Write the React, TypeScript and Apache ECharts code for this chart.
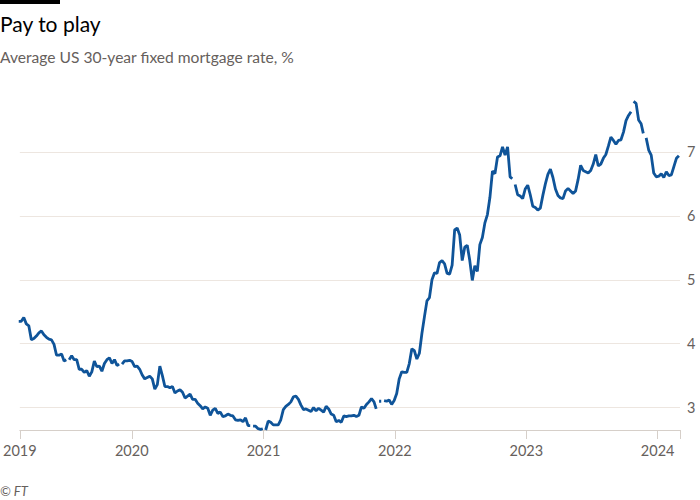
import React, { useEffect, useRef } from "react";
import * as echarts from "echarts";

type Pt = [string, number | null];

// Weekly average 30-year fixed mortgage rate, % (null = break in the line)
const rates2019: Pt[] = [
  ["2019-02-21", 4.35], ["2019-02-28", 4.35], ["2019-03-07", 4.41], ["2019-03-14", 4.31], ["2019-03-21", 4.28],
  ["2019-03-28", 4.06], ["2019-04-04", 4.08], ["2019-04-11", 4.12], ["2019-04-18", 4.17], ["2019-04-25", 4.2],
  ["2019-05-02", 4.14], ["2019-05-09", 4.1], ["2019-05-16", 4.07], ["2019-05-23", 4.06], ["2019-05-30", 3.99],
  ["2019-06-06", 3.82], ["2019-06-13", 3.82], ["2019-06-20", 3.84], ["2019-06-27", 3.73], ["2019-07-03", 3.75],
  ["2019-07-07", null], ["2019-07-11", 3.75], ["2019-07-18", 3.81], ["2019-07-25", 3.75], ["2019-08-01", 3.75],
  ["2019-08-08", 3.6], ["2019-08-15", 3.6], ["2019-08-22", 3.55], ["2019-08-29", 3.58], ["2019-09-05", 3.49],
  ["2019-09-12", 3.56], ["2019-09-19", 3.73], ["2019-09-26", 3.64], ["2019-10-03", 3.65], ["2019-10-10", 3.57],
  ["2019-10-17", 3.69], ["2019-10-24", 3.75], ["2019-10-31", 3.78], ["2019-11-07", 3.69], ["2019-11-14", 3.75],
  ["2019-11-21", 3.66], ["2019-11-27", 3.68], ["2019-12-01", null], ["2019-12-05", 3.68], ["2019-12-12", 3.73],
  ["2019-12-19", 3.73], ["2019-12-26", 3.74],
];

const rates2020: Pt[] = [
  ["2020-01-02", 3.72], ["2020-01-09", 3.64], ["2020-01-16", 3.65], ["2020-01-23", 3.6], ["2020-01-30", 3.51],
  ["2020-02-06", 3.45], ["2020-02-13", 3.47], ["2020-02-20", 3.49], ["2020-02-27", 3.45], ["2020-03-05", 3.29],
  ["2020-03-12", 3.36], ["2020-03-19", 3.65], ["2020-03-26", 3.5], ["2020-04-02", 3.33], ["2020-04-09", 3.33],
  ["2020-04-16", 3.31], ["2020-04-23", 3.33], ["2020-04-30", 3.23], ["2020-05-07", 3.26], ["2020-05-14", 3.28],
  ["2020-05-21", 3.24], ["2020-05-28", 3.15], ["2020-06-04", 3.18], ["2020-06-11", 3.21], ["2020-06-18", 3.13],
  ["2020-06-25", 3.13], ["2020-07-02", 3.07], ["2020-07-09", 3.03], ["2020-07-16", 2.98], ["2020-07-23", 3.01],
  ["2020-07-30", 2.99], ["2020-08-06", 2.88], ["2020-08-13", 2.96], ["2020-08-20", 2.99], ["2020-08-27", 2.91],
  ["2020-09-03", 2.93], ["2020-09-10", 2.86], ["2020-09-17", 2.87], ["2020-09-24", 2.9], ["2020-10-01", 2.88],
  ["2020-10-08", 2.87], ["2020-10-15", 2.81], ["2020-10-22", 2.8], ["2020-10-29", 2.81], ["2020-11-05", 2.78],
  ["2020-11-12", 2.84], ["2020-11-19", 2.72], ["2020-11-25", 2.72], ["2020-11-29", null], ["2020-12-03", 2.71],
  ["2020-12-10", 2.71], ["2020-12-17", 2.67], ["2020-12-24", 2.66], ["2020-12-30", 2.67], ["2021-01-03", null],
];

const rates2021: Pt[] = [
  ["2021-01-07", 2.65], ["2021-01-14", 2.79], ["2021-01-21", 2.77], ["2021-01-28", 2.73], ["2021-02-04", 2.73],
  ["2021-02-11", 2.73], ["2021-02-18", 2.81], ["2021-02-25", 2.97], ["2021-03-04", 3.02], ["2021-03-11", 3.05],
  ["2021-03-18", 3.09], ["2021-03-25", 3.17], ["2021-04-01", 3.18], ["2021-04-08", 3.13], ["2021-04-15", 3.04],
  ["2021-04-22", 2.97], ["2021-04-29", 2.98], ["2021-05-06", 2.96], ["2021-05-13", 2.94], ["2021-05-20", 3.0],
  ["2021-05-27", 2.95], ["2021-06-03", 2.99], ["2021-06-10", 2.96], ["2021-06-17", 2.93], ["2021-06-24", 3.02],
  ["2021-07-01", 2.98], ["2021-07-08", 2.9], ["2021-07-15", 2.88], ["2021-07-22", 2.78], ["2021-07-29", 2.8],
  ["2021-08-05", 2.77], ["2021-08-12", 2.87], ["2021-08-19", 2.86], ["2021-08-26", 2.87], ["2021-09-02", 2.87],
  ["2021-09-09", 2.88], ["2021-09-16", 2.86], ["2021-09-23", 2.88], ["2021-09-30", 3.01], ["2021-10-07", 2.99],
  ["2021-10-14", 3.05], ["2021-10-21", 3.09], ["2021-10-28", 3.14], ["2021-11-04", 3.09], ["2021-11-10", 2.98],
  ["2021-11-14", null], ["2021-11-18", 3.1], ["2021-11-24", 3.1], ["2021-11-28", null], ["2021-12-02", 3.11],
  ["2021-12-09", 3.1], ["2021-12-16", 3.12], ["2021-12-23", 3.05], ["2021-12-30", 3.11],
];

const rates2022: Pt[] = [
  ["2022-01-06", 3.22], ["2022-01-13", 3.45], ["2022-01-20", 3.56], ["2022-01-27", 3.55], ["2022-02-03", 3.55],
  ["2022-02-10", 3.69], ["2022-02-17", 3.92], ["2022-02-24", 3.89], ["2022-03-03", 3.76], ["2022-03-10", 3.85],
  ["2022-03-17", 4.16], ["2022-03-24", 4.42], ["2022-03-31", 4.67], ["2022-04-07", 4.72], ["2022-04-14", 5.0],
  ["2022-04-21", 5.11], ["2022-04-28", 5.1], ["2022-05-05", 5.27], ["2022-05-12", 5.3], ["2022-05-19", 5.25],
  ["2022-05-26", 5.1], ["2022-06-02", 5.09], ["2022-06-09", 5.23], ["2022-06-16", 5.78], ["2022-06-23", 5.81],
  ["2022-06-30", 5.7], ["2022-07-07", 5.3], ["2022-07-14", 5.51], ["2022-07-21", 5.54], ["2022-07-28", 5.3],
  ["2022-08-04", 4.99], ["2022-08-11", 5.22], ["2022-08-18", 5.13], ["2022-08-25", 5.55], ["2022-09-01", 5.66],
  ["2022-09-08", 5.89], ["2022-09-15", 6.02], ["2022-09-22", 6.29], ["2022-09-29", 6.7], ["2022-10-06", 6.66],
  ["2022-10-13", 6.92], ["2022-10-20", 6.94], ["2022-10-27", 7.08], ["2022-11-03", 6.95], ["2022-11-10", 7.08],
  ["2022-11-17", 6.61], ["2022-11-23", 6.58], ["2022-11-27", null], ["2022-12-01", 6.49], ["2022-12-08", 6.33],
  ["2022-12-15", 6.31], ["2022-12-22", 6.27], ["2022-12-29", 6.42],
];

const rates2023: Pt[] = [
  ["2023-01-05", 6.48], ["2023-01-12", 6.33], ["2023-01-19", 6.15], ["2023-01-26", 6.13], ["2023-02-02", 6.09],
  ["2023-02-09", 6.12], ["2023-02-16", 6.32], ["2023-02-23", 6.5], ["2023-03-02", 6.65], ["2023-03-09", 6.73],
  ["2023-03-16", 6.6], ["2023-03-23", 6.42], ["2023-03-30", 6.32], ["2023-04-06", 6.28], ["2023-04-13", 6.27],
  ["2023-04-20", 6.39], ["2023-04-27", 6.43], ["2023-05-04", 6.39], ["2023-05-11", 6.35], ["2023-05-18", 6.39],
  ["2023-05-25", 6.57], ["2023-06-01", 6.79], ["2023-06-08", 6.71], ["2023-06-15", 6.69], ["2023-06-22", 6.67],
  ["2023-06-29", 6.71], ["2023-07-06", 6.81], ["2023-07-13", 6.96], ["2023-07-20", 6.78], ["2023-07-27", 6.81],
  ["2023-08-03", 6.9], ["2023-08-10", 6.96], ["2023-08-17", 7.09], ["2023-08-24", 7.23], ["2023-08-31", 7.18],
  ["2023-09-07", 7.12], ["2023-09-14", 7.18], ["2023-09-21", 7.19], ["2023-09-28", 7.31], ["2023-10-05", 7.49],
  ["2023-10-12", 7.57], ["2023-10-19", 7.63], ["2023-10-22", null], ["2023-10-26", 7.79], ["2023-11-02", 7.76],
  ["2023-11-09", 7.5], ["2023-11-16", 7.44], ["2023-11-22", 7.29], ["2023-11-26", null], ["2023-11-30", 7.22],
  ["2023-12-07", 7.03], ["2023-12-14", 6.95], ["2023-12-21", 6.67], ["2023-12-28", 6.61],
];

const rates2024: Pt[] = [
  ["2024-01-04", 6.62], ["2024-01-11", 6.66], ["2024-01-18", 6.6], ["2024-01-25", 6.69], ["2024-02-01", 6.63],
  ["2024-02-08", 6.64], ["2024-02-15", 6.77], ["2024-02-22", 6.9], ["2024-02-29", 6.94],
];

const yearTicks = ["2020-01-01", "2021-01-01", "2022-01-01", "2023-01-01", "2024-01-01"];
const axisStart = "2019-02-24";
const axisEnd = "2024-03-03";
const yTicks = [3, 4, 5, 6, 7];

const titleText = "Pay to play";
const subtitleText = "Average US 30-year fixed mortgage rate, %";
const sourceText = "© FT";

const FONT = "Lato, 'Noto Sans', sans-serif";

export default function App() {
  const ref = useRef<HTMLDivElement>(null);

  useEffect(() => {
    document.body.style.margin = "0";
    if (!ref.current) return;
    const chart = echarts.init(ref.current, undefined, { renderer: "svg" });
    const t = (s: string) => Date.parse(s);
    const all = [...rates2019, ...rates2020, ...rates2021, ...rates2022, ...rates2023, ...rates2024];
    const data = all.map(([d, v]) => [t(d), v]);
    const xMin = t(axisStart);
    const xMax = t(axisEnd);
    const labelVals = [xMin, ...yearTicks.map(t)];
    const tickVals = [...labelVals, xMax];

    chart.setOption({
      animation: false,
      grid: { left: 18, right: 20, top: 88, bottom: 70, containLabel: false },
      xAxis: {
        type: "value",
        min: xMin,
        max: xMax,
        axisLine: { show: true, lineStyle: { color: "#d6cfc9", width: 1 } },
        axisTick: { show: true, length: 9, lineStyle: { color: "#d6cfc9" }, customValues: tickVals },
        axisLabel: {
          customValues: labelVals,
          formatter: (v: number) => String(new Date(v).getUTCFullYear()),
          color: "#66605c",
          fontFamily: FONT,
          fontSize: 14.5,
          margin: 13,
          showMinLabel: true,
        },
        splitLine: { show: false },
      },
      yAxis: {
        type: "value",
        position: "right",
        min: 2.65,
        max: 8,
        axisLine: { show: false },
        axisTick: { show: false, customValues: yTicks },
        axisLabel: {
          customValues: yTicks,
          color: "#66605c",
          fontFamily: FONT,
          fontSize: 14.5,
          margin: 7,
        },
        splitLine: { show: true, lineStyle: { color: "#ede6e0", width: 1 } },
      },
      graphic: [
        { type: "rect", shape: { x: 0, y: 0, width: 60, height: 4 }, style: { fill: "#000" } },
        {
          type: "text",
          x: 0,
          y: 23.5,
          style: { text: titleText, font: `21px ${FONT}`, fill: "#000", verticalAlign: "middle" },
        },
        {
          type: "text",
          x: 0,
          y: 56.5,
          style: { text: subtitleText, font: `15.6px ${FONT}`, fill: "#66605c", verticalAlign: "middle" },
        },
        {
          type: "text",
          x: 0,
          y: 491,
          style: { text: sourceText, font: `italic 13px ${FONT}`, fill: "#66605c", verticalAlign: "middle" },
        },
      ],
      series: [
        {
          type: "line",
          data,
          showSymbol: false,
          connectNulls: false,
          clip: true,
          lineStyle: { color: "#0f5499", width: 2.8 },
          itemStyle: { color: "#0f5499" },
        },
      ],
    });
    return () => chart.dispose();
  }, []);

  return <div ref={ref} style={{ width: 700, height: 500 }} />;
}
